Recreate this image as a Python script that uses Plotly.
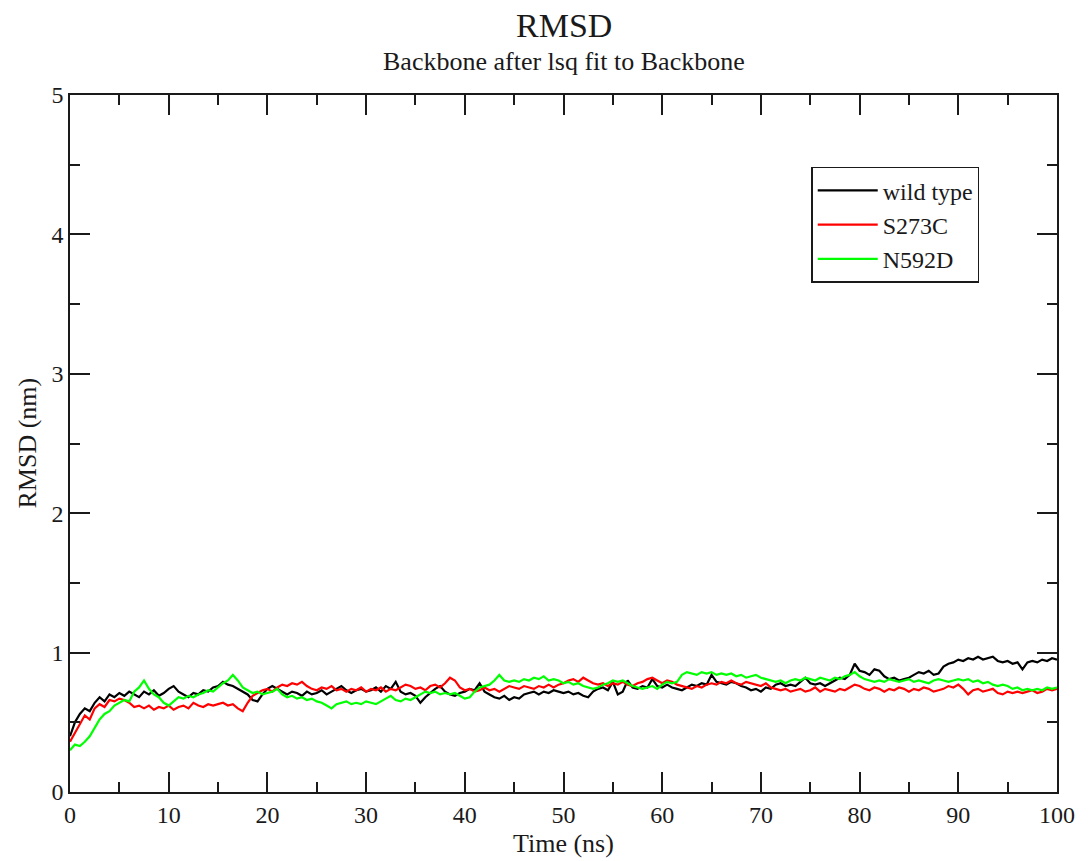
import plotly.graph_objects as go

# Time axis (ns), sampled every 0.5 ns
time_ns = [i * 0.5 for i in range(201)]

wild_type = [
    0.40, 0.50, 0.56, 0.60, 0.58, 0.64, 0.68, 0.65, 0.70, 0.68, 0.71, 0.69, 0.72, 0.70, 0.68, 0.72, 0.70, 0.73, 0.69, 0.71, 0.74,
    0.76, 0.72, 0.70, 0.68, 0.71, 0.70, 0.73, 0.72, 0.75, 0.76, 0.79, 0.77, 0.76, 0.74, 0.72, 0.70, 0.66, 0.65, 0.70, 0.74,
    0.76, 0.74, 0.72, 0.70, 0.72, 0.71, 0.69, 0.72, 0.70, 0.71, 0.73, 0.70, 0.72, 0.74, 0.76, 0.73, 0.71, 0.73, 0.74, 0.72,
    0.73, 0.75, 0.72, 0.76, 0.74, 0.79, 0.72, 0.70, 0.71, 0.69, 0.64, 0.68, 0.71, 0.74, 0.76, 0.72, 0.70, 0.69, 0.71, 0.72,
    0.74, 0.73, 0.78, 0.72, 0.70, 0.68, 0.67, 0.69, 0.66, 0.68, 0.67, 0.70, 0.71, 0.72, 0.70, 0.72, 0.71, 0.73, 0.72, 0.71,
    0.72, 0.70, 0.71, 0.69, 0.68, 0.72, 0.74, 0.75, 0.73, 0.79, 0.70, 0.72, 0.80, 0.75, 0.74, 0.76, 0.75, 0.81, 0.76, 0.75,
    0.77, 0.75, 0.74, 0.73, 0.75, 0.77, 0.76, 0.78, 0.77, 0.84, 0.79, 0.78, 0.77, 0.79, 0.78, 0.76, 0.75, 0.73, 0.74, 0.72,
    0.75, 0.74, 0.77, 0.78, 0.76, 0.77, 0.76, 0.79, 0.82, 0.78, 0.77, 0.78, 0.76, 0.78, 0.80, 0.82, 0.81, 0.84, 0.92, 0.87,
    0.86, 0.84, 0.88, 0.87, 0.83, 0.81, 0.82, 0.80, 0.81, 0.82, 0.84, 0.86, 0.85, 0.87, 0.84, 0.85, 0.90, 0.92, 0.93, 0.95,
    0.94, 0.96, 0.95, 0.97, 0.95, 0.96, 0.97, 0.94, 0.93, 0.94, 0.92, 0.93, 0.88, 0.93, 0.94, 0.93, 0.95, 0.94, 0.96, 0.95,
]

s273c = [
    0.36, 0.42, 0.48, 0.55, 0.52, 0.60, 0.63, 0.61, 0.66, 0.65, 0.67, 0.66, 0.64, 0.61, 0.62, 0.60, 0.62, 0.59, 0.61, 0.60, 0.62,
    0.59, 0.61, 0.62, 0.60, 0.64, 0.62, 0.61, 0.63, 0.62, 0.63, 0.64, 0.62, 0.63, 0.60, 0.58, 0.64, 0.69, 0.71, 0.73, 0.74,
    0.72, 0.75, 0.77, 0.76, 0.78, 0.77, 0.79, 0.76, 0.74, 0.73, 0.75, 0.74, 0.76, 0.73, 0.74, 0.72, 0.74, 0.73, 0.75, 0.72,
    0.74, 0.73, 0.75, 0.72, 0.74, 0.73, 0.75, 0.77, 0.76, 0.74, 0.75, 0.73, 0.76, 0.77, 0.75, 0.78, 0.82, 0.80, 0.75, 0.73,
    0.74, 0.72, 0.73, 0.75, 0.73, 0.74, 0.72, 0.74, 0.76, 0.75, 0.74, 0.76, 0.75, 0.74, 0.76, 0.75, 0.77, 0.75, 0.77, 0.78,
    0.80, 0.81, 0.79, 0.82, 0.80, 0.78, 0.77, 0.78, 0.76, 0.78, 0.77, 0.79, 0.77, 0.76, 0.78, 0.79, 0.81, 0.82, 0.80, 0.78,
    0.80, 0.79, 0.77, 0.76, 0.75, 0.74, 0.76, 0.75, 0.77, 0.78, 0.77, 0.79, 0.78, 0.80, 0.78, 0.77, 0.79, 0.78, 0.77, 0.76,
    0.78, 0.75, 0.74, 0.73, 0.74, 0.72, 0.73, 0.74, 0.72, 0.73, 0.75, 0.72, 0.74, 0.73, 0.72, 0.74, 0.73, 0.75, 0.77, 0.76,
    0.74, 0.73, 0.75, 0.74, 0.72, 0.74, 0.73, 0.75, 0.74, 0.72, 0.74, 0.73, 0.75, 0.74, 0.72, 0.73, 0.74, 0.76, 0.75, 0.77,
    0.74, 0.70, 0.73, 0.74, 0.72, 0.73, 0.74, 0.71, 0.70, 0.72, 0.71, 0.72, 0.71, 0.72, 0.73, 0.71, 0.72, 0.74, 0.73, 0.74,
]

n592d = [
    0.30, 0.34, 0.33, 0.36, 0.40, 0.46, 0.52, 0.56, 0.58, 0.62, 0.64, 0.66, 0.65, 0.72, 0.75, 0.80, 0.74, 0.70, 0.68, 0.64, 0.62,
    0.65, 0.68, 0.67, 0.69, 0.68, 0.70, 0.71, 0.73, 0.72, 0.75, 0.78, 0.80, 0.84, 0.80, 0.75, 0.73, 0.71, 0.72, 0.70, 0.71,
    0.72, 0.74, 0.70, 0.68, 0.69, 0.67, 0.68, 0.66, 0.67, 0.65, 0.64, 0.62, 0.60, 0.63, 0.64, 0.65, 0.63, 0.64, 0.63, 0.65,
    0.64, 0.63, 0.65, 0.67, 0.69, 0.66, 0.65, 0.67, 0.66, 0.68, 0.70, 0.72, 0.71, 0.72, 0.70, 0.71, 0.70, 0.71, 0.69, 0.67,
    0.68, 0.72, 0.75, 0.76, 0.77, 0.80, 0.84, 0.80, 0.79, 0.80, 0.79, 0.81, 0.80, 0.82, 0.81, 0.83, 0.80, 0.81, 0.80, 0.78,
    0.79, 0.77, 0.78, 0.76, 0.75, 0.74, 0.75, 0.77, 0.78, 0.80, 0.79, 0.80, 0.78, 0.76, 0.75, 0.74, 0.75, 0.76, 0.74, 0.77,
    0.79, 0.78, 0.79, 0.84, 0.86, 0.85, 0.84, 0.86, 0.85, 0.86, 0.84, 0.85, 0.84, 0.85, 0.83, 0.84, 0.82, 0.83, 0.84, 0.82,
    0.81, 0.80, 0.79, 0.80, 0.78, 0.80, 0.81, 0.80, 0.82, 0.81, 0.80, 0.82, 0.81, 0.80, 0.82, 0.81, 0.83, 0.84, 0.86, 0.83,
    0.81, 0.80, 0.79, 0.80, 0.79, 0.81, 0.80, 0.79, 0.80, 0.81, 0.79, 0.80, 0.79, 0.78, 0.80, 0.81, 0.80, 0.79, 0.80, 0.81,
    0.80, 0.81, 0.79, 0.80, 0.78, 0.79, 0.77, 0.76, 0.77, 0.76, 0.74, 0.75, 0.73, 0.74, 0.73, 0.74, 0.73, 0.75, 0.74, 0.75,
]

series_names = ["wild type", "S273C", "N592D"]
series_colors = ["#000000", "#ff0000", "#00ff00"]
series_values = [wild_type, s273c, n592d]

x_ticks = [0, 10, 20, 30, 40, 50, 60, 70, 80, 90, 100]
y_ticks = [0, 1, 2, 3, 4, 5]

FONT = "Liberation Serif, Times New Roman, serif"
INK = "#1a1a1a"

fig = go.Figure()
for name, color, vals in zip(series_names, series_colors, series_values):
    fig.add_trace(go.Scatter(x=time_ns, y=vals, mode="lines", name=name,
                             line=dict(color=color, width=2.2)))

axis_common = dict(
    showgrid=False, zeroline=False, showline=True, linecolor=INK,
    linewidth=1.5, mirror="ticks", ticks="inside", ticklen=20, tickwidth=1.5,
    tickcolor=INK, tickfont=dict(family=FONT, size=24, color=INK),
)
fig.update_xaxes(range=[0, 100], tickvals=x_ticks, ticktext=[str(v) for v in x_ticks],
                 minor=dict(dtick=5, ticklen=10, tickwidth=1.5, tickcolor=INK, ticks="inside"),
                 **axis_common)
fig.update_yaxes(range=[0, 5], tickvals=y_ticks, ticktext=[str(v) for v in y_ticks],
                 minor=dict(dtick=0.5, ticklen=10, tickwidth=1.5, tickcolor=INK, ticks="inside"),
                 **axis_common)

fig.update_layout(
    width=1081, height=853,
    margin=dict(l=62, r=32, t=87, b=69),
    paper_bgcolor="white", plot_bgcolor="white",
    font=dict(family=FONT, color=INK),
    showlegend=True,
    legend=dict(x=0.751, y=0.897, xanchor="left", yanchor="top",
                bordercolor=INK, borderwidth=1.5, bgcolor="white",
                font=dict(family=FONT, size=24, color=INK),
                tracegroupgap=0, itemwidth=60),
    annotations=[
        dict(text="RMSD", xref="paper", yref="paper", x=0.5, y=1, yshift=70,
             yanchor="middle", showarrow=False, font=dict(family=FONT, size=34, color=INK)),
        dict(text="Backbone after lsq fit to Backbone", xref="paper", yref="paper",
             x=0.5, y=1, yshift=34, yanchor="middle", showarrow=False,
             font=dict(family=FONT, size=26, color=INK)),
        dict(text="Time (ns)", xref="paper", yref="paper", x=0.5, y=0, yshift=-51,
             yanchor="middle", showarrow=False, font=dict(family=FONT, size=26, color=INK)),
        dict(text="RMSD (nm)", xref="paper", yref="paper", x=0, y=0.5, xshift=-43,
             xanchor="center", yanchor="middle",
             textangle=-90, showarrow=False, font=dict(family=FONT, size=26, color=INK)),
    ],
)

fig.write_html("out.html")
